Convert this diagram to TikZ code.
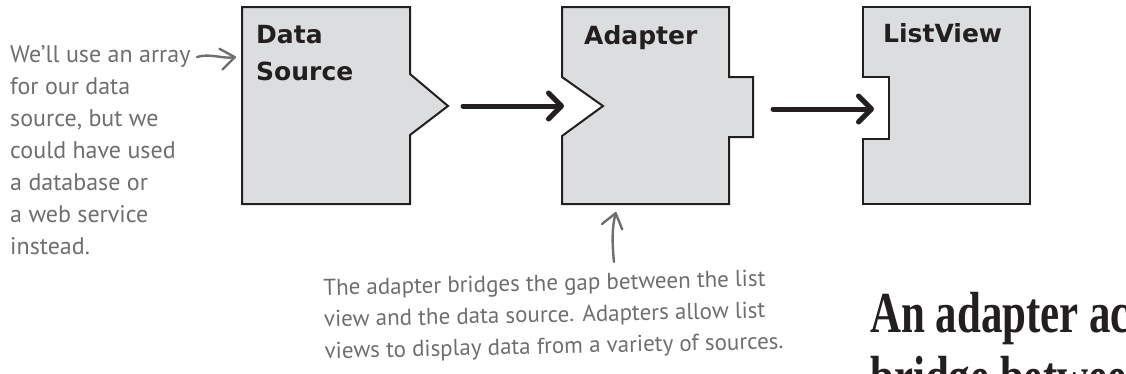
\documentclass[tikz,border=0pt]{standalone}
\usepackage{fontspec}
\setmainfont{Liberation Serif}
\newfontfamily\boxfont{DejaVu Sans}
\newfontfamily\handfont{PT Sans}
\newfontfamily\headfont{Liberation Serif}
\usetikzlibrary{arrows.meta}
\definecolor{boxgray}{HTML}{DCDDDF}
\definecolor{handgray}{HTML}{6E6E6E}
\definecolor{inkblack}{HTML}{231F20}
\begin{document}
\begin{tikzpicture}[x=1pt,y=-1pt,
  blockshape/.style={draw=inkblack, fill=boxgray, line width=2pt, line join=miter},
  blocklabel/.style={font=\boxfont\bfseries\fontsize{25}{30}\selectfont, text=inkblack, anchor=base west, inner sep=0},
  flowarrow/.style={draw=inkblack, line width=5pt, line cap=round, -{Straight Barb[length=13pt,width=26pt,round]}},
  notearrow/.style={draw=handgray, line width=2.4pt, line cap=round, -{Straight Barb[length=14pt,width=21pt,round]}},
  notetext/.style={font=\handfont\fontsize{24}{32}\selectfont, text=handgray, align=left, inner sep=0, anchor=north west},
  headtext/.style={font=\headfont\bfseries\fontsize{58}{58}\selectfont, text=inkblack, anchor=base west, inner sep=0, xscale=0.74},
]
\useasboundingbox (0,0) rectangle (1126,373);
% blocks
\path[blockshape] (242,7) -- (410,7) -- (410,74) -- (448,106) -- (410,135) -- (410,204) -- (242,204) -- cycle;
\path[blockshape] (562,7) -- (729,7) -- (729,77) -- (753,77) -- (753,137) -- (729,137) -- (729,204) -- (562,204) -- (562,136) -- (603,106) -- (562,77) -- cycle;
\path[blockshape] (863,7) -- (1030,7) -- (1030,204) -- (863,204) -- (863,139) -- (889,139) -- (889,77) -- (863,77) -- cycle;
\node[blocklabel] (dsA) at (256,43) {Data};
\node[blocklabel] (dsB) at (256,80) {Source};
\node[blocklabel] (adL) at (584,44) {Adapter};
\node[blocklabel] (lvL) at (883,42) {ListView};
% flow arrows
\coordinate (dsOut) at (463,106);
\coordinate (adIn) at (564,106);
\coordinate (adOut) at (773,109);
\coordinate (lvIn) at (874,109);
\draw[flowarrow] (dsOut) -- (adIn);
\draw[flowarrow] (adOut) -- (lvIn);
% notes
\node[notetext] (noteL) at (10,45) {We’ll use an array\\for our data\\source, but we\\could have used\\a database or\\a web service\\instead.};
\coordinate (nLs) at (197,57);
\coordinate (nLe) at (236,57);
\draw[notearrow] (nLs) .. controls (210,53) and (222,59) .. (nLe);
\node[notetext, font=\handfont\fontsize{23}{31.5}\selectfont, rotate=1.2] (noteB) at (323,279) {The adapter bridges the gap between the list\\view and the data source. Adapters allow list\\views to display data from a variety of sources.};
\coordinate (nBs) at (614,262);
\coordinate (nBe) at (616,212);
\draw[notearrow] (nBs) .. controls (612,243) and (612,227) .. (nBe);
% heading (cut off by the page edge)
\begin{scope}
\clip (0,0) rectangle (1126,373);
\node[headtext] (headA) at (870,332) {An adapter acts as a};
\node[headtext] (headB) at (870,396) {bridge between};
\end{scope}
\end{tikzpicture}
\end{document}
